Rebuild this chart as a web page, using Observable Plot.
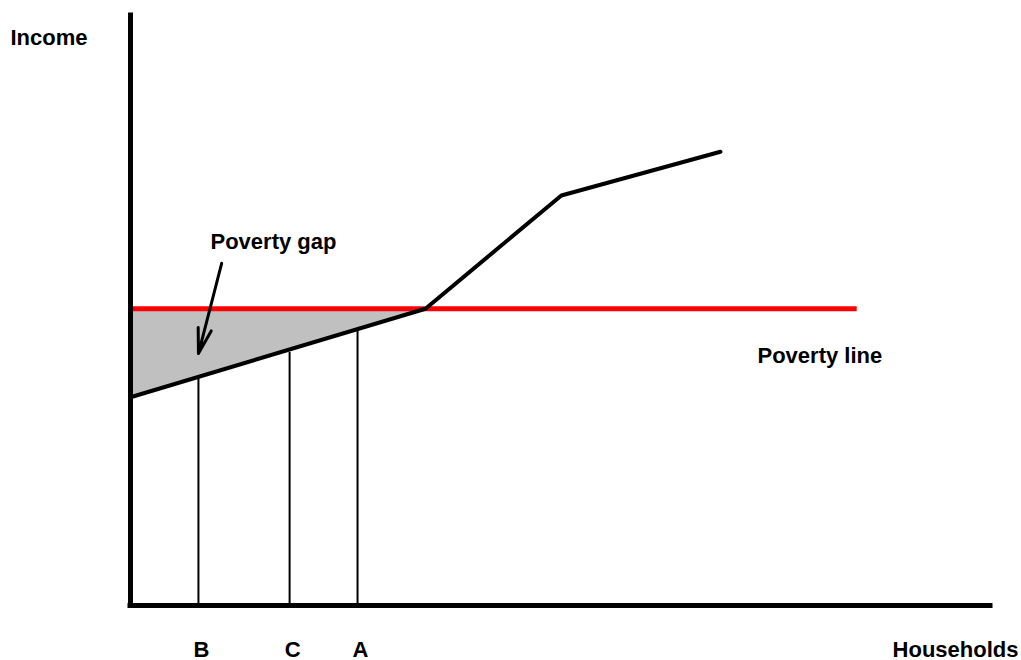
<!DOCTYPE html>
<html>
<head>
<meta charset="utf-8">
<script src="https://cdn.jsdelivr.net/npm/d3@7"></script>
<script src="https://cdn.jsdelivr.net/npm/@observablehq/plot@0.6"></script>
<style>
  html, body { margin: 0; padding: 0; background: #fff; }
  #chart svg { display: block; }
</style>
</head>
<body>
<div id="chart"></div>
<script>
// Income distribution (households ranked, income level) — schematic units 0..100
const incomeX = [0, 34.3, 50.1, 68.6];
const incomeY = [35.3, 50.3, 69.5, 76.9];
const povertyLine = 50.3;
const povertyLineEnd = 84.5;
const households = ["B", "C", "A"];
const householdX = [7.9, 18.5, 26.4];
const householdIncome = [38.6, 42.9, 46.6];
const arrowFrom = [10.6, 58.0];
const arrowTo = [7.9, 42.7];

const income = incomeX.map((x, i) => ({x, y: incomeY[i]}));
const gap = income.filter(d => d.x <= 34.3);
const hh = households.map((name, i) => ({name, x: householdX[i], y: householdIncome[i]}));

const font = "Liberation Sans, Arial, sans-serif";

const chart = Plot.plot({
  width: 1021,
  height: 660,
  margin: 0,
  x: {domain: [0, 100], range: [130, 990], axis: null},
  y: {domain: [0, 100], range: [605, 15], axis: null},
  style: {fontFamily: font, background: "#fff"},
  marks: [
    Plot.areaY(gap, {x: "x", y1: "y", y2: povertyLine, fill: "#c0c0c0", curve: "linear"}),
    Plot.ruleY([povertyLine], {x1: 0, x2: povertyLineEnd, stroke: "#ff0000", strokeWidth: 5}),
    Plot.ruleX(hh, {x: "x", y1: 0, y2: "y", stroke: "#000", strokeWidth: 2}),
    Plot.line(income, {x: "x", y: "y", stroke: "#000", strokeWidth: 4, strokeLinejoin: "round"}),
    Plot.ruleX([0], {y1: 0, y2: 100, stroke: "#000", strokeWidth: 5, strokeLinecap: "square"}),
    Plot.ruleY([0], {x1: 0, x2: 100, stroke: "#000", strokeWidth: 5, strokeLinecap: "square"}),
    Plot.arrow([{}], {x1: () => arrowFrom[0], y1: () => arrowFrom[1], x2: () => arrowTo[0], y2: () => arrowTo[1],
      stroke: "#000", strokeWidth: 3, headLength: 13, headAngle: 30}),
    Plot.text(hh, {x: "x", y: 0, text: "name", dy: 51, dx: 3, lineAnchor: "bottom", fontSize: 22, fontWeight: "bold", fill: "#000"}),
    Plot.text(["Poverty gap"], {x: 0, y: 100, text: d => d, dx: 80, dy: 233, textAnchor: "start", lineAnchor: "bottom", fontSize: 22, fontWeight: "bold", fill: "#000"}),
    Plot.text(["Poverty line"], {x: 0, y: 100, text: d => d, dx: 627, dy: 347, textAnchor: "start", lineAnchor: "bottom", fontSize: 22, fontWeight: "bold", fill: "#000"}),
    Plot.text(["Income"], {x: 0, y: 100, text: d => d, dx: -120, dy: 29, textAnchor: "start", lineAnchor: "bottom", fontSize: 22, fontWeight: "bold", fill: "#000"}),
    Plot.text(["Households"], {x: 100, y: 0, text: d => d, dx: 28, dy: 51, textAnchor: "end", lineAnchor: "bottom", fontSize: 22, fontWeight: "bold", fill: "#000"})
  ]
});
document.getElementById("chart").appendChild(chart);
</script>
</body>
</html>
